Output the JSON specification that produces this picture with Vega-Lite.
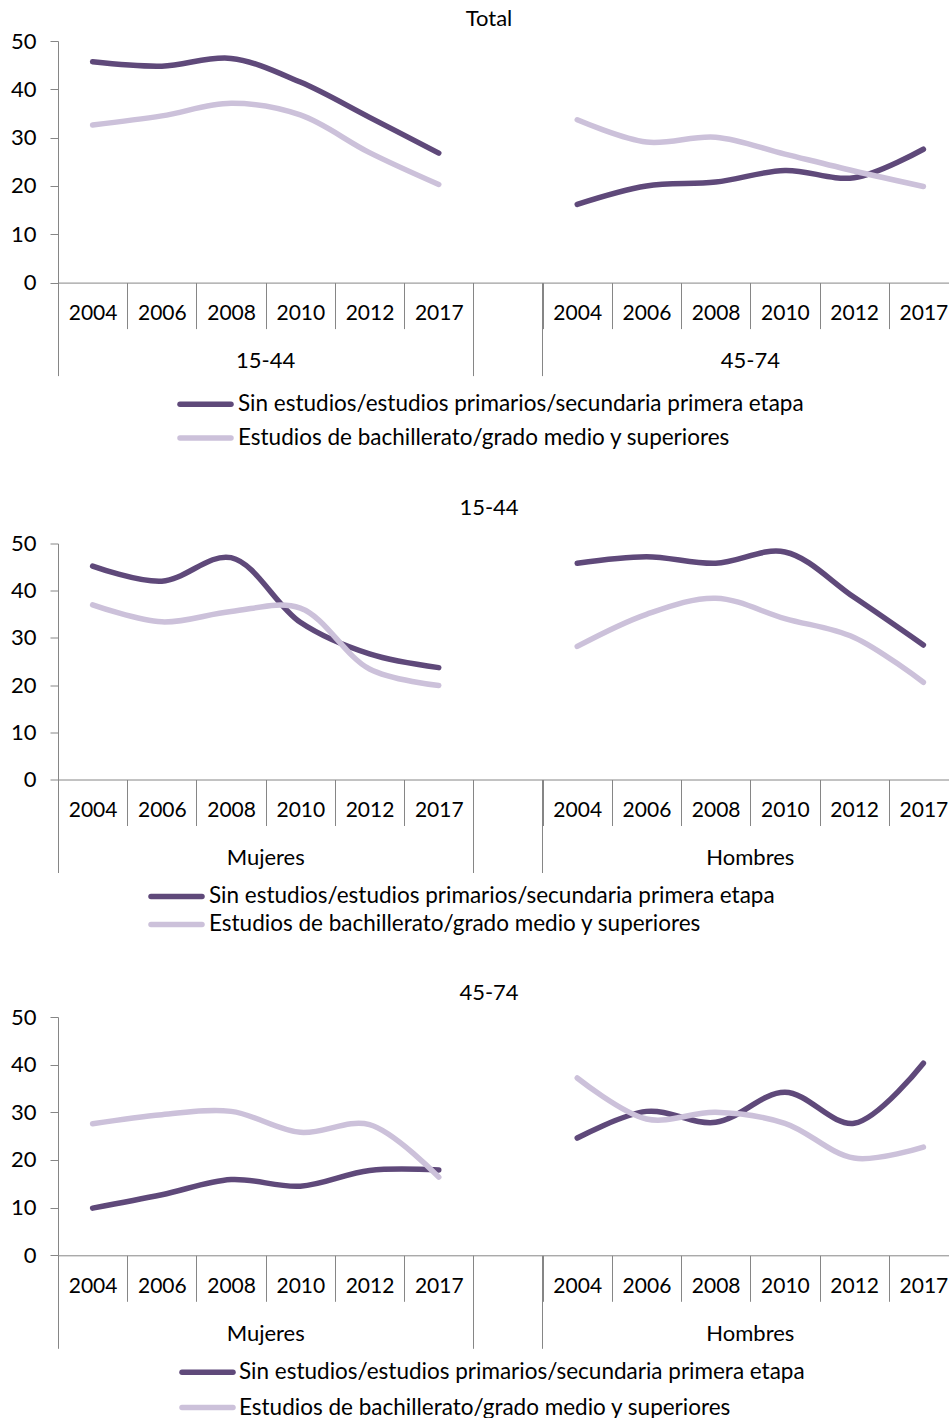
{
  "$schema": "https://vega.github.io/schema/vega-lite/v6.json",
  "background": "white",
  "padding": {"left": 0, "top": 8, "right": 0, "bottom": 0},
  "spacing": 43.5,
  "config": {
    "font": "Lato",
    "view": {"stroke": null},
    "axis": {"labelFont": "Lato", "labelColor": "#000000", "domainColor": "#868686", "tickColor": "#868686", "grid": false, "labelAngle": 0, "labelOverlap": false},
    "legend": {"labelFont": "Lato", "labelColor": "#000000"},
    "title": {"font": "Lato", "fontSize": 22, "fontWeight": "normal", "color": "#000000", "frame": "group", "baseline": "alphabetic", "anchor": "middle"}
  },
  "data": {"values": [
    {"panel": "Total", "grupo": "15-44", "slot": "15-44|2004", "serie": "Sin estudios/estudios primarios/secundaria primera etapa", "valor": 45.7},
    {"panel": "Total", "grupo": "15-44", "slot": "15-44|2006", "serie": "Sin estudios/estudios primarios/secundaria primera etapa", "valor": 44.8},
    {"panel": "Total", "grupo": "15-44", "slot": "15-44|2008", "serie": "Sin estudios/estudios primarios/secundaria primera etapa", "valor": 46.4},
    {"panel": "Total", "grupo": "15-44", "slot": "15-44|2010", "serie": "Sin estudios/estudios primarios/secundaria primera etapa", "valor": 41.5},
    {"panel": "Total", "grupo": "15-44", "slot": "15-44|2012", "serie": "Sin estudios/estudios primarios/secundaria primera etapa", "valor": 34.2},
    {"panel": "Total", "grupo": "15-44", "slot": "15-44|2017", "serie": "Sin estudios/estudios primarios/secundaria primera etapa", "valor": 26.8},
    {"panel": "Total", "grupo": "45-74", "slot": "45-74|2004", "serie": "Sin estudios/estudios primarios/secundaria primera etapa", "valor": 16.2},
    {"panel": "Total", "grupo": "45-74", "slot": "45-74|2006", "serie": "Sin estudios/estudios primarios/secundaria primera etapa", "valor": 20.0},
    {"panel": "Total", "grupo": "45-74", "slot": "45-74|2008", "serie": "Sin estudios/estudios primarios/secundaria primera etapa", "valor": 20.8},
    {"panel": "Total", "grupo": "45-74", "slot": "45-74|2010", "serie": "Sin estudios/estudios primarios/secundaria primera etapa", "valor": 23.2},
    {"panel": "Total", "grupo": "45-74", "slot": "45-74|2012", "serie": "Sin estudios/estudios primarios/secundaria primera etapa", "valor": 21.7},
    {"panel": "Total", "grupo": "45-74", "slot": "45-74|2017", "serie": "Sin estudios/estudios primarios/secundaria primera etapa", "valor": 27.6},
    {"panel": "Total", "grupo": "15-44", "slot": "15-44|2004", "serie": "Estudios de bachillerato/grado medio y superiores", "valor": 32.6},
    {"panel": "Total", "grupo": "15-44", "slot": "15-44|2006", "serie": "Estudios de bachillerato/grado medio y superiores", "valor": 34.5},
    {"panel": "Total", "grupo": "15-44", "slot": "15-44|2008", "serie": "Estudios de bachillerato/grado medio y superiores", "valor": 37.1},
    {"panel": "Total", "grupo": "15-44", "slot": "15-44|2010", "serie": "Estudios de bachillerato/grado medio y superiores", "valor": 34.7},
    {"panel": "Total", "grupo": "15-44", "slot": "15-44|2012", "serie": "Estudios de bachillerato/grado medio y superiores", "valor": 26.9},
    {"panel": "Total", "grupo": "15-44", "slot": "15-44|2017", "serie": "Estudios de bachillerato/grado medio y superiores", "valor": 20.3},
    {"panel": "Total", "grupo": "45-74", "slot": "45-74|2004", "serie": "Estudios de bachillerato/grado medio y superiores", "valor": 33.7},
    {"panel": "Total", "grupo": "45-74", "slot": "45-74|2006", "serie": "Estudios de bachillerato/grado medio y superiores", "valor": 29.1},
    {"panel": "Total", "grupo": "45-74", "slot": "45-74|2008", "serie": "Estudios de bachillerato/grado medio y superiores", "valor": 30.1},
    {"panel": "Total", "grupo": "45-74", "slot": "45-74|2010", "serie": "Estudios de bachillerato/grado medio y superiores", "valor": 26.6},
    {"panel": "Total", "grupo": "45-74", "slot": "45-74|2012", "serie": "Estudios de bachillerato/grado medio y superiores", "valor": 23.1},
    {"panel": "Total", "grupo": "45-74", "slot": "45-74|2017", "serie": "Estudios de bachillerato/grado medio y superiores", "valor": 19.9},

    {"panel": "15-44", "grupo": "Mujeres", "slot": "Mujeres|2004", "serie": "Sin estudios/estudios primarios/secundaria primera etapa", "valor": 45.2},
    {"panel": "15-44", "grupo": "Mujeres", "slot": "Mujeres|2006", "serie": "Sin estudios/estudios primarios/secundaria primera etapa", "valor": 42.0},
    {"panel": "15-44", "grupo": "Mujeres", "slot": "Mujeres|2008", "serie": "Sin estudios/estudios primarios/secundaria primera etapa", "valor": 47.0},
    {"panel": "15-44", "grupo": "Mujeres", "slot": "Mujeres|2010", "serie": "Sin estudios/estudios primarios/secundaria primera etapa", "valor": 33.3},
    {"panel": "15-44", "grupo": "Mujeres", "slot": "Mujeres|2012", "serie": "Sin estudios/estudios primarios/secundaria primera etapa", "valor": 26.6},
    {"panel": "15-44", "grupo": "Mujeres", "slot": "Mujeres|2017", "serie": "Sin estudios/estudios primarios/secundaria primera etapa", "valor": 23.7},
    {"panel": "15-44", "grupo": "Hombres", "slot": "Hombres|2004", "serie": "Sin estudios/estudios primarios/secundaria primera etapa", "valor": 45.8},
    {"panel": "15-44", "grupo": "Hombres", "slot": "Hombres|2006", "serie": "Sin estudios/estudios primarios/secundaria primera etapa", "valor": 47.2},
    {"panel": "15-44", "grupo": "Hombres", "slot": "Hombres|2008", "serie": "Sin estudios/estudios primarios/secundaria primera etapa", "valor": 45.8},
    {"panel": "15-44", "grupo": "Hombres", "slot": "Hombres|2010", "serie": "Sin estudios/estudios primarios/secundaria primera etapa", "valor": 48.2},
    {"panel": "15-44", "grupo": "Hombres", "slot": "Hombres|2012", "serie": "Sin estudios/estudios primarios/secundaria primera etapa", "valor": 38.6},
    {"panel": "15-44", "grupo": "Hombres", "slot": "Hombres|2017", "serie": "Sin estudios/estudios primarios/secundaria primera etapa", "valor": 28.5},
    {"panel": "15-44", "grupo": "Mujeres", "slot": "Mujeres|2004", "serie": "Estudios de bachillerato/grado medio y superiores", "valor": 37.0},
    {"panel": "15-44", "grupo": "Mujeres", "slot": "Mujeres|2006", "serie": "Estudios de bachillerato/grado medio y superiores", "valor": 33.4},
    {"panel": "15-44", "grupo": "Mujeres", "slot": "Mujeres|2008", "serie": "Estudios de bachillerato/grado medio y superiores", "valor": 35.6},
    {"panel": "15-44", "grupo": "Mujeres", "slot": "Mujeres|2010", "serie": "Estudios de bachillerato/grado medio y superiores", "valor": 36.3},
    {"panel": "15-44", "grupo": "Mujeres", "slot": "Mujeres|2012", "serie": "Estudios de bachillerato/grado medio y superiores", "valor": 23.4},
    {"panel": "15-44", "grupo": "Mujeres", "slot": "Mujeres|2017", "serie": "Estudios de bachillerato/grado medio y superiores", "valor": 19.9},
    {"panel": "15-44", "grupo": "Hombres", "slot": "Hombres|2004", "serie": "Estudios de bachillerato/grado medio y superiores", "valor": 28.2},
    {"panel": "15-44", "grupo": "Hombres", "slot": "Hombres|2006", "serie": "Estudios de bachillerato/grado medio y superiores", "valor": 35.0},
    {"panel": "15-44", "grupo": "Hombres", "slot": "Hombres|2008", "serie": "Estudios de bachillerato/grado medio y superiores", "valor": 38.4},
    {"panel": "15-44", "grupo": "Hombres", "slot": "Hombres|2010", "serie": "Estudios de bachillerato/grado medio y superiores", "valor": 34.1},
    {"panel": "15-44", "grupo": "Hombres", "slot": "Hombres|2012", "serie": "Estudios de bachillerato/grado medio y superiores", "valor": 30.1},
    {"panel": "15-44", "grupo": "Hombres", "slot": "Hombres|2017", "serie": "Estudios de bachillerato/grado medio y superiores", "valor": 20.6},

    {"panel": "45-74", "grupo": "Mujeres", "slot": "Mujeres|2004", "serie": "Sin estudios/estudios primarios/secundaria primera etapa", "valor": 9.9},
    {"panel": "45-74", "grupo": "Mujeres", "slot": "Mujeres|2006", "serie": "Sin estudios/estudios primarios/secundaria primera etapa", "valor": 12.7},
    {"panel": "45-74", "grupo": "Mujeres", "slot": "Mujeres|2008", "serie": "Sin estudios/estudios primarios/secundaria primera etapa", "valor": 15.9},
    {"panel": "45-74", "grupo": "Mujeres", "slot": "Mujeres|2010", "serie": "Sin estudios/estudios primarios/secundaria primera etapa", "valor": 14.5},
    {"panel": "45-74", "grupo": "Mujeres", "slot": "Mujeres|2012", "serie": "Sin estudios/estudios primarios/secundaria primera etapa", "valor": 17.8},
    {"panel": "45-74", "grupo": "Mujeres", "slot": "Mujeres|2017", "serie": "Sin estudios/estudios primarios/secundaria primera etapa", "valor": 17.9},
    {"panel": "45-74", "grupo": "Hombres", "slot": "Hombres|2004", "serie": "Sin estudios/estudios primarios/secundaria primera etapa", "valor": 24.6},
    {"panel": "45-74", "grupo": "Hombres", "slot": "Hombres|2006", "serie": "Sin estudios/estudios primarios/secundaria primera etapa", "valor": 30.2},
    {"panel": "45-74", "grupo": "Hombres", "slot": "Hombres|2008", "serie": "Sin estudios/estudios primarios/secundaria primera etapa", "valor": 27.9},
    {"panel": "45-74", "grupo": "Hombres", "slot": "Hombres|2010", "serie": "Sin estudios/estudios primarios/secundaria primera etapa", "valor": 34.2},
    {"panel": "45-74", "grupo": "Hombres", "slot": "Hombres|2012", "serie": "Sin estudios/estudios primarios/secundaria primera etapa", "valor": 27.7},
    {"panel": "45-74", "grupo": "Hombres", "slot": "Hombres|2017", "serie": "Sin estudios/estudios primarios/secundaria primera etapa", "valor": 40.3},
    {"panel": "45-74", "grupo": "Mujeres", "slot": "Mujeres|2004", "serie": "Estudios de bachillerato/grado medio y superiores", "valor": 27.6},
    {"panel": "45-74", "grupo": "Mujeres", "slot": "Mujeres|2006", "serie": "Estudios de bachillerato/grado medio y superiores", "valor": 29.5},
    {"panel": "45-74", "grupo": "Mujeres", "slot": "Mujeres|2008", "serie": "Estudios de bachillerato/grado medio y superiores", "valor": 30.2},
    {"panel": "45-74", "grupo": "Mujeres", "slot": "Mujeres|2010", "serie": "Estudios de bachillerato/grado medio y superiores", "valor": 25.8},
    {"panel": "45-74", "grupo": "Mujeres", "slot": "Mujeres|2012", "serie": "Estudios de bachillerato/grado medio y superiores", "valor": 27.4},
    {"panel": "45-74", "grupo": "Mujeres", "slot": "Mujeres|2017", "serie": "Estudios de bachillerato/grado medio y superiores", "valor": 16.4},
    {"panel": "45-74", "grupo": "Hombres", "slot": "Hombres|2004", "serie": "Estudios de bachillerato/grado medio y superiores", "valor": 37.2},
    {"panel": "45-74", "grupo": "Hombres", "slot": "Hombres|2006", "serie": "Estudios de bachillerato/grado medio y superiores", "valor": 28.6},
    {"panel": "45-74", "grupo": "Hombres", "slot": "Hombres|2008", "serie": "Estudios de bachillerato/grado medio y superiores", "valor": 30.0},
    {"panel": "45-74", "grupo": "Hombres", "slot": "Hombres|2010", "serie": "Estudios de bachillerato/grado medio y superiores", "valor": 27.7},
    {"panel": "45-74", "grupo": "Hombres", "slot": "Hombres|2012", "serie": "Estudios de bachillerato/grado medio y superiores", "valor": 20.4},
    {"panel": "45-74", "grupo": "Hombres", "slot": "Hombres|2017", "serie": "Estudios de bachillerato/grado medio y superiores", "valor": 22.7}
  ]},
  "resolve": {"scale": {"color": "independent", "x": "independent"}, "legend": {"color": "independent"}},
  "vconcat": [
    {
      "title": {"text": "Total", "offset": -1, "dx": -19},
      "width": 900, "height": 241.6,
      "transform": [{"filter": "datum.panel === 'Total'"}],
      "resolve": {"axis": {"x": "independent"}},
      "layer": [
        {
          "transform": [{"filter": "datum.serie === 'Sin estudios/estudios primarios/secundaria primera etapa'"}],
          "mark": {"type": "line", "interpolate": "catmull-rom", "strokeWidth": 5.5, "strokeCap": "round"},
          "encoding": {
            "x": {"field": "slot", "type": "ordinal", "bandPosition": 0.5, "scale": {"type": "band", "domain": ["15-44|2004","15-44|2006","15-44|2008","15-44|2010","15-44|2012","15-44|2017","gap","45-74|2004","45-74|2006","45-74|2008","45-74|2010","45-74|2012","45-74|2017"], "paddingInner": 0, "paddingOuter": 0},
              "axis": {"orient": "bottom", "title": null, "tickBand": "extent", "tickSize": 46, "labelPadding": -9.2, "labelBaseline": "alphabetic", "labelFontSize": 21, "labelExpr": "indexof(datum.label,'|') >= 0 ? split(datum.label,'|')[1] : ''"}},
            "y": {"field": "valor", "type": "quantitative", "scale": {"domain": [0, 50], "nice": false}, "axis": {"title": null, "values": [0,10,20,30,40,50], "tickSize": 8, "labelPadding": 14, "labelFontSize": 22, "minExtent": 58}},
            "detail": {"field": "grupo"},
            "color": {"field": "serie", "type": "nominal", "scale": {"domain": ["Sin estudios/estudios primarios/secundaria primera etapa", "Estudios de bachillerato/grado medio y superiores"], "range": ["#5F497A", "#CCC1DA"]},
              "legend": {"title": null, "orient": "none", "legendX": 116.5, "legendY": 350.7, "direction": "vertical", "symbolType": "stroke", "symbolSize": 2601, "symbolStrokeWidth": 5.5, "clipHeight": 20, "rowPadding": 10.7, "labelFontSize": 22.5, "labelOffset": 4, "labelLimit": 1000, "padding": 2.5, "encode": {"symbols": {"update": {"strokeCap": {"value": "round"}}}}}}
          }
        },
        {
          "transform": [{"filter": "datum.serie === 'Estudios de bachillerato/grado medio y superiores'"}],
          "mark": {"type": "line", "interpolate": "catmull-rom", "strokeWidth": 5.5, "strokeCap": "round"},
          "encoding": {
            "x": {"field": "slot", "type": "ordinal", "bandPosition": 0.5, "scale": {"type": "band", "domain": ["15-44|2004","15-44|2006","15-44|2008","15-44|2010","15-44|2012","15-44|2017","gap","45-74|2004","45-74|2006","45-74|2008","45-74|2010","45-74|2012","45-74|2017"], "paddingInner": 0, "paddingOuter": 0},
              "axis": {"orient": "bottom", "title": null, "values": ["15-44|2004", "gap", "45-74|2004"], "bandPosition": 0, "tickSize": 93, "labels": false, "domain": false}},
            "y": {"field": "valor", "type": "quantitative", "scale": {"domain": [0, 50], "nice": false}, "axis": {"title": null, "values": [0,10,20,30,40,50], "tickSize": 8, "labelPadding": 14, "labelFontSize": 22, "minExtent": 58}},
            "detail": {"field": "grupo"},
            "color": {"field": "serie", "type": "nominal", "scale": {"domain": ["Sin estudios/estudios primarios/secundaria primera etapa", "Estudios de bachillerato/grado medio y superiores"], "range": ["#5F497A", "#CCC1DA"]},
              "legend": {"title": null, "orient": "none", "legendX": 116.5, "legendY": 350.7, "direction": "vertical", "symbolType": "stroke", "symbolSize": 2601, "symbolStrokeWidth": 5.5, "clipHeight": 20, "rowPadding": 10.7, "labelFontSize": 22.5, "labelOffset": 4, "labelLimit": 1000, "padding": 2.5, "encode": {"symbols": {"update": {"strokeCap": {"value": "round"}}}}}}
          }
        },
        {
          "mark": {"type": "point", "opacity": 0},
          "encoding": {
            "x": {"field": "slot", "type": "ordinal", "bandPosition": 0.5, "scale": {"type": "band", "domain": ["15-44|2004","15-44|2006","15-44|2008","15-44|2010","15-44|2012","15-44|2017","gap","45-74|2004","45-74|2006","45-74|2008","45-74|2010","45-74|2012","45-74|2017"], "paddingInner": 0, "paddingOuter": 0},
              "axis": {"orient": "bottom", "title": null, "values": ["15-44|2010", "45-74|2010"], "ticks": false, "domain": false, "labelPadding": 85, "labelOffset": -34.6, "labelBaseline": "alphabetic", "labelFontSize": 22, "labelExpr": "split(datum.label,'|')[0]"}}
          }
        }
      ]
    },
    {
      "title": {"text": "15-44", "offset": 13, "dx": -19},
      "width": 900, "height": 236,
      "transform": [{"filter": "datum.panel === '15-44'"}],
      "resolve": {"axis": {"x": "independent"}},
      "layer": [
        {
          "transform": [{"filter": "datum.serie === 'Sin estudios/estudios primarios/secundaria primera etapa'"}],
          "mark": {"type": "line", "interpolate": "catmull-rom", "strokeWidth": 5.5, "strokeCap": "round"},
          "encoding": {
            "x": {"field": "slot", "type": "ordinal", "bandPosition": 0.5, "scale": {"type": "band", "domain": ["Mujeres|2004","Mujeres|2006","Mujeres|2008","Mujeres|2010","Mujeres|2012","Mujeres|2017","gap","Hombres|2004","Hombres|2006","Hombres|2008","Hombres|2010","Hombres|2012","Hombres|2017"], "paddingInner": 0, "paddingOuter": 0},
              "axis": {"orient": "bottom", "title": null, "tickBand": "extent", "tickSize": 46, "labelPadding": -9.2, "labelBaseline": "alphabetic", "labelFontSize": 21, "labelExpr": "indexof(datum.label,'|') >= 0 ? split(datum.label,'|')[1] : ''"}},
            "y": {"field": "valor", "type": "quantitative", "scale": {"domain": [0, 50], "nice": false}, "axis": {"title": null, "values": [0,10,20,30,40,50], "tickSize": 8, "labelPadding": 14, "labelFontSize": 22, "minExtent": 58}},
            "detail": {"field": "grupo"},
            "color": {"field": "serie", "type": "nominal", "scale": {"domain": ["Sin estudios/estudios primarios/secundaria primera etapa", "Estudios de bachillerato/grado medio y superiores"], "range": ["#5F497A", "#CCC1DA"]},
              "legend": {"title": null, "orient": "none", "legendX": 88, "legendY": 340.9, "direction": "vertical", "symbolType": "stroke", "symbolSize": 2601, "symbolStrokeWidth": 5.5, "clipHeight": 20, "rowPadding": 5.0, "labelFontSize": 22.5, "labelOffset": 4, "labelLimit": 1000, "padding": 2, "encode": {"symbols": {"update": {"strokeCap": {"value": "round"}}}}}}
          }
        },
        {
          "transform": [{"filter": "datum.serie === 'Estudios de bachillerato/grado medio y superiores'"}],
          "mark": {"type": "line", "interpolate": "catmull-rom", "strokeWidth": 5.5, "strokeCap": "round"},
          "encoding": {
            "x": {"field": "slot", "type": "ordinal", "bandPosition": 0.5, "scale": {"type": "band", "domain": ["Mujeres|2004","Mujeres|2006","Mujeres|2008","Mujeres|2010","Mujeres|2012","Mujeres|2017","gap","Hombres|2004","Hombres|2006","Hombres|2008","Hombres|2010","Hombres|2012","Hombres|2017"], "paddingInner": 0, "paddingOuter": 0},
              "axis": {"orient": "bottom", "title": null, "values": ["Mujeres|2004", "gap", "Hombres|2004"], "bandPosition": 0, "tickSize": 93, "labels": false, "domain": false}},
            "y": {"field": "valor", "type": "quantitative", "scale": {"domain": [0, 50], "nice": false}, "axis": {"title": null, "values": [0,10,20,30,40,50], "tickSize": 8, "labelPadding": 14, "labelFontSize": 22, "minExtent": 58}},
            "detail": {"field": "grupo"},
            "color": {"field": "serie", "type": "nominal", "scale": {"domain": ["Sin estudios/estudios primarios/secundaria primera etapa", "Estudios de bachillerato/grado medio y superiores"], "range": ["#5F497A", "#CCC1DA"]},
              "legend": {"title": null, "orient": "none", "legendX": 88, "legendY": 340.9, "direction": "vertical", "symbolType": "stroke", "symbolSize": 2601, "symbolStrokeWidth": 5.5, "clipHeight": 20, "rowPadding": 5.0, "labelFontSize": 22.5, "labelOffset": 4, "labelLimit": 1000, "padding": 2, "encode": {"symbols": {"update": {"strokeCap": {"value": "round"}}}}}}
          }
        },
        {
          "mark": {"type": "point", "opacity": 0},
          "encoding": {
            "x": {"field": "slot", "type": "ordinal", "bandPosition": 0.5, "scale": {"type": "band", "domain": ["Mujeres|2004","Mujeres|2006","Mujeres|2008","Mujeres|2010","Mujeres|2012","Mujeres|2017","gap","Hombres|2004","Hombres|2006","Hombres|2008","Hombres|2010","Hombres|2012","Hombres|2017"], "paddingInner": 0, "paddingOuter": 0},
              "axis": {"orient": "bottom", "title": null, "values": ["Mujeres|2010", "Hombres|2010"], "ticks": false, "domain": false, "labelPadding": 85, "labelOffset": -34.6, "labelBaseline": "alphabetic", "labelFontSize": 22, "labelExpr": "split(datum.label,'|')[0]"}}
          }
        }
      ]
    },
    {
      "title": {"text": "45-74", "offset": 1, "dx": -19},
      "width": 900, "height": 238.3,
      "transform": [{"filter": "datum.panel === '45-74'"}],
      "resolve": {"axis": {"x": "independent"}},
      "layer": [
        {
          "transform": [{"filter": "datum.serie === 'Sin estudios/estudios primarios/secundaria primera etapa'"}],
          "mark": {"type": "line", "interpolate": "catmull-rom", "strokeWidth": 5.5, "strokeCap": "round"},
          "encoding": {
            "x": {"field": "slot", "type": "ordinal", "bandPosition": 0.5, "scale": {"type": "band", "domain": ["Mujeres|2004","Mujeres|2006","Mujeres|2008","Mujeres|2010","Mujeres|2012","Mujeres|2017","gap","Hombres|2004","Hombres|2006","Hombres|2008","Hombres|2010","Hombres|2012","Hombres|2017"], "paddingInner": 0, "paddingOuter": 0},
              "axis": {"orient": "bottom", "title": null, "tickBand": "extent", "tickSize": 46, "labelPadding": -9.2, "labelBaseline": "alphabetic", "labelFontSize": 21, "labelExpr": "indexof(datum.label,'|') >= 0 ? split(datum.label,'|')[1] : ''"}},
            "y": {"field": "valor", "type": "quantitative", "scale": {"domain": [0, 50], "nice": false}, "axis": {"title": null, "values": [0,10,20,30,40,50], "tickSize": 8, "labelPadding": 14, "labelFontSize": 22, "minExtent": 58}},
            "detail": {"field": "grupo"},
            "color": {"field": "serie", "type": "nominal", "scale": {"domain": ["Sin estudios/estudios primarios/secundaria primera etapa", "Estudios de bachillerato/grado medio y superiores"], "range": ["#5F497A", "#CCC1DA"]},
              "legend": {"title": null, "orient": "none", "legendX": 121, "legendY": 345.3, "direction": "vertical", "symbolType": "stroke", "symbolSize": 2601, "symbolStrokeWidth": 5.5, "clipHeight": 20, "rowPadding": 12.3, "labelFontSize": 22.5, "labelOffset": 3, "labelLimit": 1000, "padding": 0, "encode": {"symbols": {"update": {"strokeCap": {"value": "round"}}}}}}
          }
        },
        {
          "transform": [{"filter": "datum.serie === 'Estudios de bachillerato/grado medio y superiores'"}],
          "mark": {"type": "line", "interpolate": "catmull-rom", "strokeWidth": 5.5, "strokeCap": "round"},
          "encoding": {
            "x": {"field": "slot", "type": "ordinal", "bandPosition": 0.5, "scale": {"type": "band", "domain": ["Mujeres|2004","Mujeres|2006","Mujeres|2008","Mujeres|2010","Mujeres|2012","Mujeres|2017","gap","Hombres|2004","Hombres|2006","Hombres|2008","Hombres|2010","Hombres|2012","Hombres|2017"], "paddingInner": 0, "paddingOuter": 0},
              "axis": {"orient": "bottom", "title": null, "values": ["Mujeres|2004", "gap", "Hombres|2004"], "bandPosition": 0, "tickSize": 93, "labels": false, "domain": false}},
            "y": {"field": "valor", "type": "quantitative", "scale": {"domain": [0, 50], "nice": false}, "axis": {"title": null, "values": [0,10,20,30,40,50], "tickSize": 8, "labelPadding": 14, "labelFontSize": 22, "minExtent": 58}},
            "detail": {"field": "grupo"},
            "color": {"field": "serie", "type": "nominal", "scale": {"domain": ["Sin estudios/estudios primarios/secundaria primera etapa", "Estudios de bachillerato/grado medio y superiores"], "range": ["#5F497A", "#CCC1DA"]},
              "legend": {"title": null, "orient": "none", "legendX": 121, "legendY": 345.3, "direction": "vertical", "symbolType": "stroke", "symbolSize": 2601, "symbolStrokeWidth": 5.5, "clipHeight": 20, "rowPadding": 12.3, "labelFontSize": 22.5, "labelOffset": 3, "labelLimit": 1000, "padding": 0, "encode": {"symbols": {"update": {"strokeCap": {"value": "round"}}}}}}
          }
        },
        {
          "mark": {"type": "point", "opacity": 0},
          "encoding": {
            "x": {"field": "slot", "type": "ordinal", "bandPosition": 0.5, "scale": {"type": "band", "domain": ["Mujeres|2004","Mujeres|2006","Mujeres|2008","Mujeres|2010","Mujeres|2012","Mujeres|2017","gap","Hombres|2004","Hombres|2006","Hombres|2008","Hombres|2010","Hombres|2012","Hombres|2017"], "paddingInner": 0, "paddingOuter": 0},
              "axis": {"orient": "bottom", "title": null, "values": ["Mujeres|2010", "Hombres|2010"], "ticks": false, "domain": false, "labelPadding": 85, "labelOffset": -34.6, "labelBaseline": "alphabetic", "labelFontSize": 22, "labelExpr": "split(datum.label,'|')[0]"}}
          }
        }
      ]
    }
  ]
}
